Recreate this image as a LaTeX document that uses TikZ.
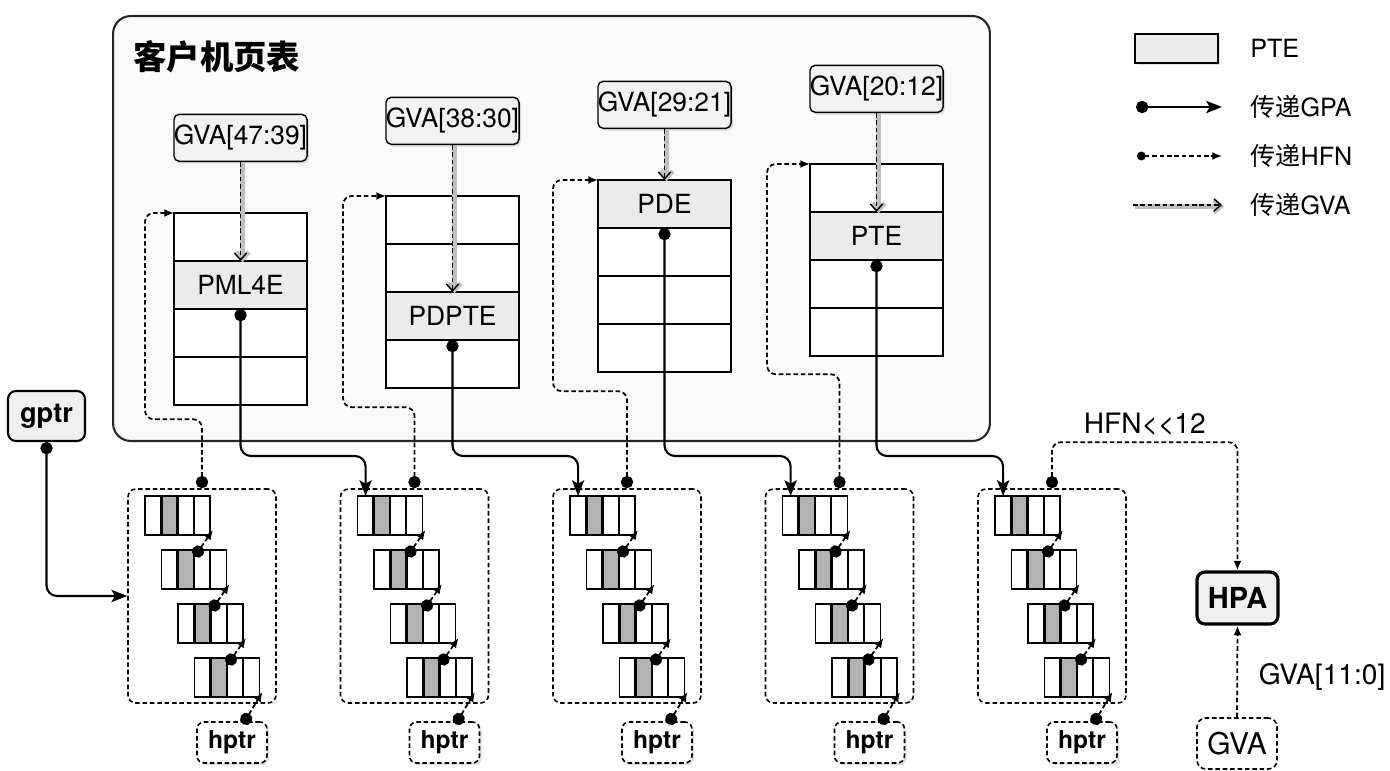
\documentclass[tikz,border=0pt]{standalone}
\usepackage{fontspec}
\setmainfont{TeX Gyre Heros}
\newfontfamily\cjk{Noto Sans CJK SC}
\usepackage{tikz}
\usetikzlibrary{arrows.meta,positioning,shadows}

\begin{document}
\begin{tikzpicture}[
    x=0.02cm, y=-0.02cm,
    font=\fontsize{15}{17}\selectfont,
    dsh/.style={dash pattern=on 2.6pt off 1.6pt},
    shade/.style={drop shadow={shadow xshift=1.2pt, shadow yshift=-1.2pt,
                  opacity=0.25}},
    guest/.style={draw=black!85, line width=1.2pt, rounded corners=10pt,
                  fill=black!2, minimum width=17.54cm, minimum height=8.5cm},
    entry/.style={draw, line width=1.2pt, fill=white, minimum width=2.66cm,
                  minimum height=0.96cm, inner sep=0pt, outer sep=0pt},
    pte/.style={entry, fill=black!8},
    idx/.style={draw, line width=0.8pt, rounded corners=3pt, fill=black!5,
                minimum width=2.66cm, minimum height=0.94cm, inner sep=0pt,
                shade},
    bucket/.style={draw, dsh, line width=0.9pt, rounded corners=4.5pt,
                   minimum width=2.96cm, minimum height=4.28cm},
    slot/.style={draw, line width=0.9pt, fill=white, minimum width=0.325cm,
                 minimum height=0.78cm, inner sep=0pt, outer sep=0pt},
    hit/.style={slot, fill=black!30, line width=1.5pt},
    ptr/.style={draw, dsh, line width=0.9pt, rounded corners=4pt, fill=white,
                minimum width=1.4cm, minimum height=0.82cm, inner sep=0pt,
                font=\bfseries\fontsize{14}{16}\selectfont, shade},
    reg/.style={draw, line width=1.2pt, rounded corners=4.5pt, fill=black!6,
                inner sep=0pt, font=\bfseries\fontsize{15.5}{18}\selectfont},
    gpa/.style={{Circle[length=7pt]}-{Stealth[length=9pt,width=7pt,inset=2pt]},
                line width=1.2pt, rounded corners=6pt},
    hfn/.style={{Circle[length=7pt]}-{Latex[length=5.5pt,width=4.5pt]},
                dsh, line width=1pt, rounded corners=5pt},
    gva/.style={-{Straight Barb[length=4pt,width=7pt]}, dsh, line width=0.8pt,
                preaction={draw=black!25, solid, line width=2.5pt,
                           transform canvas={xshift=1.2pt, yshift=-0.8pt}}},
    legtext/.style={anchor=west, inner sep=0pt, font=\fontsize{14.3}{16}\selectfont},
    lbl/.style={font=\fontsize{16}{18}\selectfont}
]
\useasboundingbox (0,0) rectangle (1390,771);

% guest page tables
\node[guest] (gpt) at (551.5,228.5) {};
\node[anchor=west, inner sep=0pt, font=\cjk\bfseries\fontsize{19}{22}\selectfont]
  (title) at (133,57) {客户机页表};

\node[entry] (a1) at (240.5,237) {};
\node[pte, below=0pt of a1] (a2) {PML4E};
\node[entry, below=0pt of a2] (a3) {};
\node[entry, below=0pt of a3] (a4) {};

\node[entry] (p1) at (452.5,220) {};
\node[entry, below=0pt of p1] (p2) {};
\node[pte, below=0pt of p2] (p3) {PDPTE};
\node[entry, below=0pt of p3] (p4) {};

\node[pte] (d1) at (664.5,204) {PDE};
\node[entry, below=0pt of d1] (d2) {};
\node[entry, below=0pt of d2] (d3) {};
\node[entry, below=0pt of d3] (d4) {};

\node[entry] (t1) at (876.5,188) {};
\node[pte, below=0pt of t1] (t2) {PTE};
\node[entry, below=0pt of t2] (t3) {};
\node[entry, below=0pt of t3] (t4) {};

\node[idx, above=1.02cm of a1] (i1) {GVA[47:39]};
\node[idx, above=1.02cm of p1] (i2) {GVA[38:30]};
\node[idx, above=1.02cm of d1] (i3) {GVA[29:21]};
\node[idx, above=1.02cm of t1] (i4) {GVA[20:12]};

\draw[gva] (i1.south) -- (a2.north);
\draw[gva] (i2.south) -- (p3.north);
\draw[gva] (i3.south) -- (d1.north);
\draw[gva] (i4.south) -- (t2.north);

% host buckets
\foreach \b in {1,...,5}{
  \node[bucket] (b\b) at ({202+212.5*(\b-1)},596) {};
  \node[ptr] (h\b) at ({232+212.5*(\b-1)},742.5) {hptr};
  \foreach \r in {1,...,4}
    \foreach \c/\k in {1/slot,3/slot,4/slot,2/hit}
      \node[\k] (s\b-\r-\c) at ({153.125+212.5*(\b-1)+16.5*(\r-1)+16.25*(\c-1)},
                              {515.5+54*(\r-1)}) {};
  \foreach \r/\p in {2/1,3/2,4/3}
    \draw[hfn] ([shift={(-0.15cm,-0.13cm)}]s\b-\r-3.north)
      -- ([shift={(0.06cm,0.1cm)}]s\b-\p-4.south east);
  \draw[hfn] ([shift={(0.22cm,-0.06cm)}]h\b.north)
    -- ([shift={(0.06cm,0.1cm)}]s\b-4-4.south east);
}

\node[reg, minimum width=1.54cm, minimum height=1cm] (gptr) at (46.5,416) {gptr};
\node[reg, line width=1.8pt, minimum width=1.62cm, minimum height=1.04cm,
      font=\bfseries\fontsize{16.5}{19}\selectfont] (hpa) at (1237.5,598) {HPA};
\node[draw, dsh, line width=0.9pt, rounded corners=5pt, minimum width=1.6cm,
      minimum height=1.02cm, font=\fontsize{17}{19}\selectfont]
  (gva) at (1237,743.5) {GVA};

% HFN back into the guest tables
\draw[hfn] (b1.north) -- ++(0,-69) -| ([xshift=-0.58cm]a1.north west) -- (a1.north west);
\draw[hfn] (b2.north) -- ++(0,-81) -| ([xshift=-0.86cm]p1.north west) -- (p1.north west);
\draw[hfn] (b3.north) -- ++(0,-97) -| ([xshift=-0.9cm]d1.north west) -- (d1.north west);
\draw[hfn] (b4.north) -- ++(0,-114) -| ([xshift=-0.86cm]t1.north west) -- (t1.north west);

% GPA into the next bucket
\coordinate (bus) at (0,456);
\draw[gpa] (gptr.south) |- (b1.west);
\draw[gpa] (a2.south) -- (a2.south |- bus) -| (s2-1-1.north);
\draw[gpa] (p3.south) -- (p3.south |- bus) -| (s3-1-1.north);
\draw[gpa] (d1.south) -- (d1.south |- bus) -| (s4-1-1.north);
\draw[gpa] (t2.south) -- (t2.south |- bus) -| (s5-1-1.north);

\draw[hfn] (b5.north) -- ++(0,-46) -| node[pos=0.25, above, lbl] {HFN<{}<12} (hpa.north);
\draw[hfn, -{Latex[length=5.5pt,width=4.5pt]}] (gva.north) -- (hpa.south)
  node[midway, right=0.3cm, yshift=-0.12cm, lbl] {GVA[11:0]};

% legend
\node[draw, line width=1.2pt, fill=black!8, minimum width=1.66cm,
      minimum height=0.58cm, shade] (lpte) at (1176.5,48.5) {};
\node[legtext] (tpte) at (1250,48.5) {PTE};
\coordinate (l1a) at (1136,107); \coordinate (l1b) at (1222,107);
\coordinate (l2a) at (1137,156); \coordinate (l2b) at (1222,156);
\coordinate (l3a) at (1133,205); \coordinate (l3b) at (1222,205);
\draw[gpa] (l1a) -- (l1b);
\draw[hfn, {Circle[length=5pt]}-{Latex[length=5.5pt,width=4.5pt]}] (l2a) -- (l2b);
\draw[gva] (l3a) -- (l3b);
\node[legtext] (tgpa) at (1250,107) {{\cjk 传递}GPA};
\node[legtext] (thfn) at (1250,156) {{\cjk 传递}HFN};
\node[legtext] (tgva) at (1250,205) {{\cjk 传递}GVA};
\end{tikzpicture}
\end{document}
